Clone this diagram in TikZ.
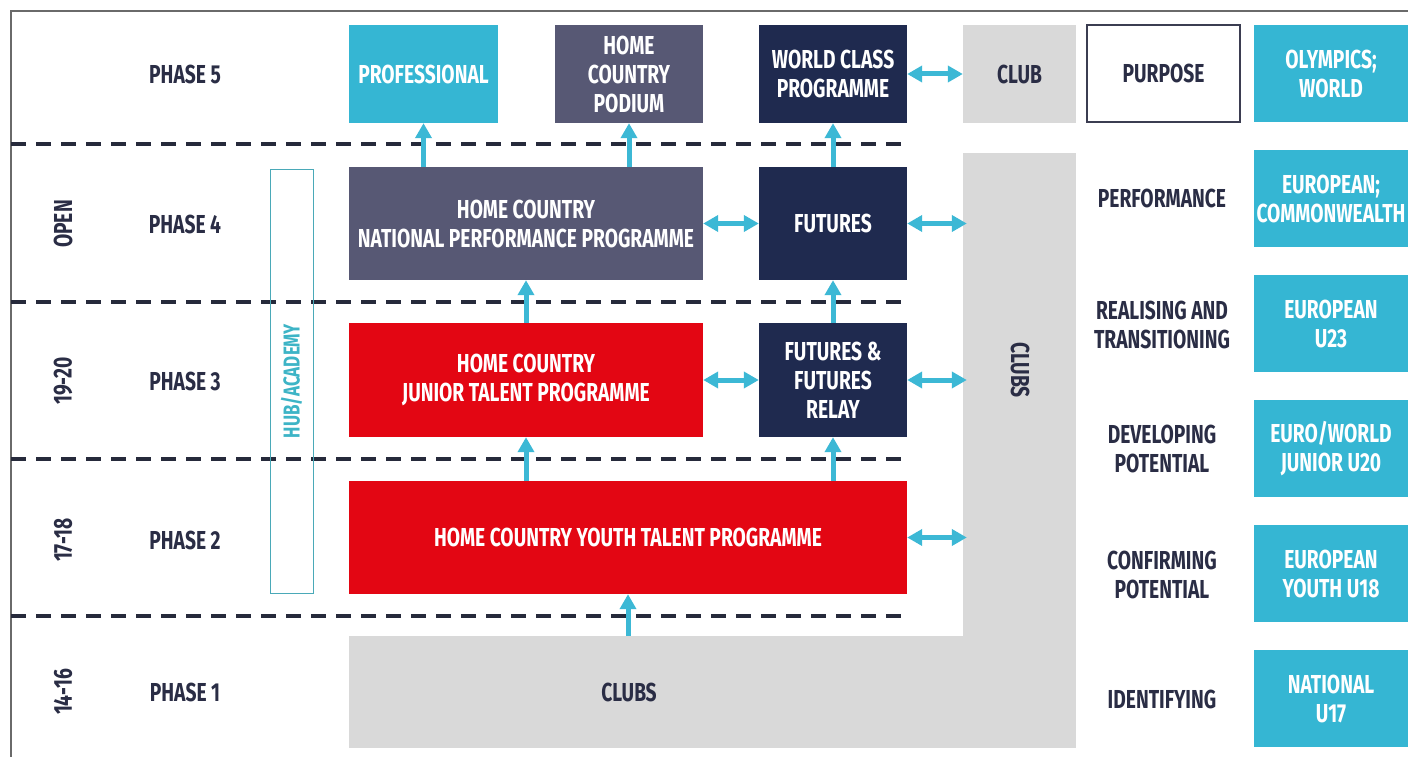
\documentclass[tikz,border=0pt]{standalone}
\usepackage{fontspec}
\setmainfont[FakeStretch=0.74]{Fira Sans}
\usetikzlibrary{arrows.meta}
\definecolor{cyanbox}{HTML}{35B6D3}
\definecolor{arrowc}{HTML}{3CB8D5}
\definecolor{slate}{HTML}{575874}
\definecolor{navy}{HTML}{1F2A4F}
\definecolor{redbox}{HTML}{E30613}
\definecolor{graybox}{HTML}{D9D9D9}
\definecolor{darktext}{HTML}{2A2D45}
\definecolor{dashc}{HTML}{262A3B}
\definecolor{hubc}{HTML}{3DB4C6}
\definecolor{framec}{HTML}{6A6A6A}
\tikzset{
  lbl/.style={font=\fontsize{26}{29}\selectfont\bfseries, text=darktext, align=center, inner sep=0pt},
  box/.style={rectangle, draw=none, inner sep=0pt, align=center, text=white,
              font=\fontsize{26}{29}\selectfont\bfseries},
  sep/.style={draw=dashc, line width=3.6pt, dash pattern=on 15pt off 10pt},
  uparr/.style={draw=arrowc, line width=5pt, -{Triangle[length=15pt,width=16pt]}},
  dblarr/.style={draw=arrowc, line width=5pt, {Triangle[length=15pt,width=16pt]}-{Triangle[length=15pt,width=16pt]}},
}
\begin{document}
\begin{tikzpicture}[x=1pt,y=-1pt]
\useasboundingbox (0,0) rectangle (1408,757);
\fill[white] (0,0) rectangle (1408,757);
% outer frame
\draw[framec, line width=1.2pt] (1408,11) -- (11,11) -- (11,757);

% clubs (L-shaped grey area)
\node[box, fill=graybox, minimum width=113pt, minimum height=595pt] (clubsv) at (1019.5,450.5) {};
\node[box, fill=graybox, minimum width=727pt, minimum height=112pt] (clubsh) at (712.5,692) {};
\node[lbl, rotate=-90] (clubsvl) at (1020,370) {CLUBS};
\node[lbl] (clubshl) at (629,692) {CLUBS};

% phase separators
\foreach \yy in {144,302,459,616} \draw[sep] (11,\yy) -- (908,\yy);

% phase labels
\node[lbl] (p5) at (185,74) {PHASE 5};
\node[lbl] (p4) at (185,224) {PHASE 4};
\node[lbl] (p3) at (185,381) {PHASE 3};
\node[lbl] (p2) at (185,540) {PHASE 2};
\node[lbl] (p1) at (185,692) {PHASE 1};
\node[lbl, rotate=90] (a4) at (63,224) {OPEN};
\node[lbl, rotate=90] (a3) at (63,381) {19-20};
\node[lbl, rotate=90] (a2) at (63,540) {17-18};
\node[lbl, rotate=90] (a1) at (63,692) {14-16};

% hub / academy
\node[draw=hubc!80!gray, line width=1pt, minimum width=43pt, minimum height=424pt, inner sep=0pt] (hub) at (291.5,381) {};
\node[lbl, text=hubc, rotate=90, font=\fontsize{23}{25}\selectfont\bfseries] (hubl) at (hub) {HUB/ACADEMY};

% programme boxes
\node[box, fill=cyanbox, minimum width=149pt, minimum height=98pt] (prof) at (423.5,74) {PROFESSIONAL};
\node[box, fill=slate, minimum width=148pt, minimum height=98pt] (podium) at (629,74) {HOME\\COUNTRY\\PODIUM};
\node[box, fill=navy, minimum width=148pt, minimum height=98pt] (wcp) at (833,74) {WORLD CLASS\\PROGRAMME};
\node[box, fill=graybox, text=darktext, minimum width=113pt, minimum height=98pt] (club) at (1019.5,74) {CLUB};
\node[box, fill=slate, minimum width=354pt, minimum height=113pt] (npp) at (526,223.5) {HOME COUNTRY\\NATIONAL PERFORMANCE PROGRAMME};
\node[box, fill=navy, minimum width=148pt, minimum height=113pt] (futures) at (833,223.5) {FUTURES};
\node[box, fill=redbox, minimum width=354pt, minimum height=114pt] (junior) at (526,380) {HOME COUNTRY\\JUNIOR TALENT PROGRAMME};
\node[box, fill=navy, minimum width=148pt, minimum height=114pt] (relay) at (833,380) {FUTURES \&\\FUTURES\\RELAY};
\node[box, fill=redbox, minimum width=558pt, minimum height=113pt] (youth) at (628,537.5) {HOME COUNTRY YOUTH TALENT PROGRAMME};

% purpose column
\node[box, draw=darktext!80!gray, line width=1.2pt, text=darktext, minimum width=153pt, minimum height=97pt] (purpose) at (1163.5,73.5) {PURPOSE};
\node[lbl] (q5) at (1162,198) {PERFORMANCE};
\node[lbl] (q4) at (1162,325) {REALISING AND\\TRANSITIONING};
\node[lbl] (q3) at (1162,449) {DEVELOPING\\POTENTIAL};
\node[lbl] (q2) at (1162,575) {CONFIRMING\\POTENTIAL};
\node[lbl] (q1) at (1162,699) {IDENTIFYING};

% competition column
\node[box, fill=cyanbox, minimum width=154pt, minimum height=97pt] (c6) at (1331,73.5) {OLYMPICS;\\WORLD};
\node[box, fill=cyanbox, minimum width=154pt, minimum height=97pt] (c5) at (1331,198.5) {EUROPEAN;\\COMMONWEALTH};
\node[box, fill=cyanbox, minimum width=154pt, minimum height=97pt] (c4) at (1331,323.5) {EUROPEAN\\U23};
\node[box, fill=cyanbox, minimum width=154pt, minimum height=97pt] (c3) at (1331,448.5) {EURO/WORLD\\JUNIOR U20};
\node[box, fill=cyanbox, minimum width=154pt, minimum height=97pt] (c2) at (1331,573.5) {EUROPEAN\\YOUTH U18};
\node[box, fill=cyanbox, minimum width=154pt, minimum height=97pt] (c1) at (1331,698.5) {NATIONAL\\U17};

% progression arrows
\draw[uparr] (prof.south |- npp.north) -- (prof.south);
\draw[uparr] (podium.south |- npp.north) -- (podium.south);
\draw[uparr] (futures.north) -- (wcp.south);
\draw[uparr] (junior.north) -- (npp.south);
\draw[uparr] (relay.north) -- (futures.south);
\draw[uparr] (youth.north -| junior.south) -- (junior.south);
\draw[uparr] (youth.north -| relay.south) -- (relay.south);
\draw[uparr] (youth.south |- clubsh.north) -- (youth.south);

% exchange arrows
\draw[dblarr] (wcp.east) -- (club.west);
\draw[dblarr] (npp.east) -- (futures.west);
\draw[dblarr, shorten >=-4pt] (futures.east) -- (futures.east -| clubsv.west);
\draw[dblarr] (junior.east) -- (relay.west);
\draw[dblarr, shorten >=-4pt] (relay.east) -- (relay.east -| clubsv.west);
\draw[dblarr, shorten >=-4pt] (youth.east) -- (youth.east -| clubsv.west);
\end{tikzpicture}
\end{document}
